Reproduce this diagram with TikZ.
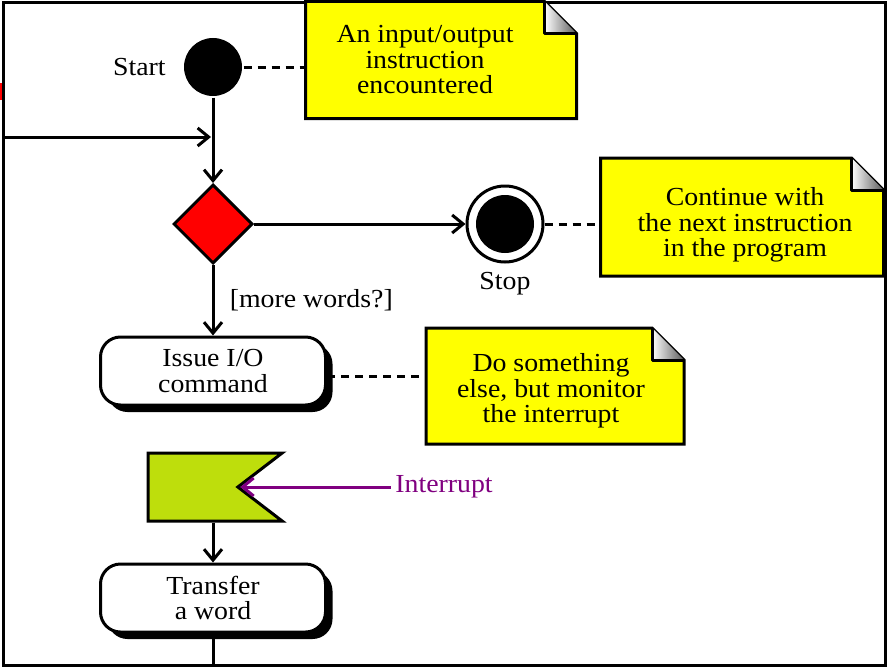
\documentclass[tikz,border=0pt]{standalone}
\usepackage{fontspec}
\setmainfont{Liberation Serif}[FakeStretch=1.07]
\usetikzlibrary{arrows.meta,shapes.geometric,shapes.symbols,shadows,positioning}

\definecolor{notejaune}{RGB}{255,255,0}
\definecolor{drapeauvert}{RGB}{190,222,12}
\definecolor{violet}{RGB}{128,0,128}

\begin{document}
\begin{tikzpicture}[x=1pt,y=-1pt,line width=3pt,
  every node/.style={font=\fontsize{26}{25.5}\selectfont},
  fleche/.style={-{Straight Barb[length=11pt,width=18pt,line width=3pt]}},
  pointilles/.style={dash pattern=on 8pt off 6pt},
  debut/.style={circle, fill=black, minimum size=58pt, inner sep=0pt},
  fin/.style={circle, draw, line width=3pt, minimum size=76pt, inner sep=0pt,
    path picture={\fill (path picture bounding box.center) circle (29pt);}},
  choix/.style={diamond, draw, fill=red, minimum size=79pt, inner sep=0pt},
  action/.style={rectangle, rounded corners=20pt, draw, fill=white, align=center,
    minimum width=225pt, minimum height=68pt, inner sep=0pt,
    drop shadow={shadow xshift=7pt, shadow yshift=-7pt, fill=black, opacity=1}},
  signal/.style={shape=signal, signal to=nowhere, signal from=east,
    signal pointer angle=75, draw, fill=drapeauvert,
    minimum width=134pt, minimum height=68pt, inner sep=0pt},
  note/.style={rectangle, minimum width=#1, inner sep=0pt},
  notetexte/.style={align=center, inner sep=0pt}
]

% -------------------------------------------------
% Cadre
% -------------------------------------------------
\useasboundingbox (0,0) rectangle (890,669);
\draw (3,3) rectangle (885,665);
\fill[red] (0,83) rectangle (2,100);

% -------------------------------------------------
% Noeuds
% -------------------------------------------------
\node[debut] (start) at (213,67) {};
\node[left=12pt of start] (startlbl) {Start};
\node[choix] (dec) at (213,224) {};
\node[fin] (stop) at (505,224) {};
\node[below=4pt of stop] (stoplbl) {Stop};
\node[action] (issue) at (213,371) {Issue I/O\\command};
\node[signal] (flag) at (193,487) {};
\node[action] (transfer) at (213,598) {Transfer\\a word};
\node[text=violet] (intlbl) at (444,487) {Interrupt};

% -------------------------------------------------
% Notes (coin plie)
% -------------------------------------------------
\node[note=268pt, minimum height=114pt] (n1) at (441,60) {};
\node[note=280pt, minimum height=115pt] (n2) at (742,217) {};
\node[note=255pt, minimum height=113pt] (n3) at (555,386) {};
\foreach \n in {n1,n2,n3} {
  \draw[fill=notejaune] (\n.south west) -- (\n.north west)
    -- ([xshift=-32pt]\n.north east) -- ([yshift=-32pt]\n.north east)
    -- (\n.south east) -- cycle;
  \shade[left color=white, right color=black!65]
    ([xshift=-32pt]\n.north east) -- ([shift={(-32pt,-32pt)}]\n.north east)
    -- ([yshift=-32pt]\n.north east) -- cycle;
  \draw[line join=round] ([xshift=-32pt]\n.north east)
    -- ([shift={(-32pt,-32pt)}]\n.north east) -- ([yshift=-32pt]\n.north east);
}
\node[notetexte] (n1t) at (425,60) {An input/output\\instruction\\encountered};
\node[notetexte] (n2t) at (745,225) {Continue with\\the next instruction\\in the program};
\node[notetexte] (n3t) at (551,391) {Do something\\else, but monitor\\the interrupt};

% -------------------------------------------------
% Liens
% -------------------------------------------------
\draw[pointilles] (start) -- (start -| n1.west);
\draw[pointilles] (stop) -- (stop -| n2.west);
\draw[pointilles] ([yshift=-5pt]issue.east) -- ([yshift=-5pt]issue.east -| n3.west);

\draw[fleche] (start) -- (dec);
\draw[fleche] (dec) -- (stop);
\draw[fleche] (dec) -- node[right=12pt] (cond) {[more words?]} (issue);
\draw[fleche] (transfer.north |- flag.south) -- (transfer);
\draw[fleche, violet] (intlbl) -- (flag.east);

% -------------------------------------------------
% Boucle (retour)
% -------------------------------------------------
\coordinate (basgauche) at (3,665);
\coordinate (retour) at (211,137);
\draw[fleche] (transfer.south) |- (basgauche) |- (retour);

\end{tikzpicture}
\end{document}
